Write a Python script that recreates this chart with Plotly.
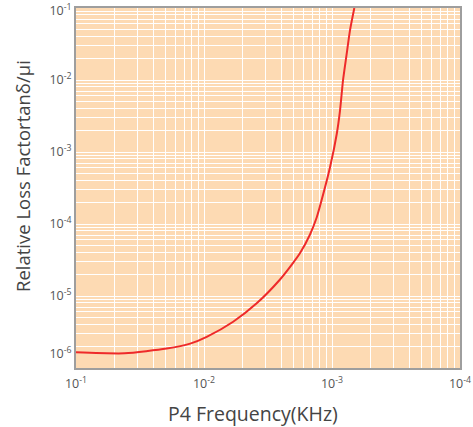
import plotly.graph_objects as go

# Data (frequency in Hz on the axis, labels as printed)
freq = [10, 24, 51, 78, 105, 169, 258, 391, 495, 563, 672, 758, 826, 964, 1089, 1155, 1219, 1298, 1383, 1494]
loss = [1.65e-6, 1.6e-6, 1.86e-6, 2.18e-6, 2.71e-6, 4.39e-6, 7.9e-6, 1.68e-5, 2.86e-5, 3.95e-5,
        7.1e-5, 1.22e-4, 2.08e-4, 6.08e-4, 1.78e-3, 3.76e-3, 9.86e-3, 2.21e-2, 4.93e-2, 1.0e-1]

x_tickvals = [10, 100, 1000, 9990]
x_ticktext = ["10<sup>-1</sup>", "10<sup>-2</sup>", "10<sup>-3</sup>", "10<sup>-4</sup>"]
y_tickvals = [10**-5.8, 1e-5, 1e-4, 1e-3, 1e-2, 10**-1.04]
y_ticktext = ["10<sup>-6</sup>", "10<sup>-5</sup>", "10<sup>-4</sup>", "10<sup>-3</sup>", "10<sup>-2</sup>", "10<sup>-1</sup>"]

x_title = "P4 Frequency(KHz)"
y_title = "Relative Loss Factortanδ/μi"

fig = go.Figure()
fig.add_trace(go.Scatter(x=freq, y=loss, mode="lines",
                         line=dict(color="#EE2A2A", width=2, shape="spline", smoothing=0.6),
                         hoverinfo="skip", showlegend=False, cliponaxis=True))

font = "Open Sans, Noto Sans, sans-serif"
fig.update_layout(
    width=473, height=427,
    margin=dict(l=76, r=13, t=8, b=59, autoexpand=False),
    paper_bgcolor="white",
    plot_bgcolor="#FDDAB3",
    font=dict(family=font, color="#555555"),
    xaxis=dict(type="log", range=[1, 4],
               tickvals=x_tickvals, ticktext=x_ticktext,
               showgrid=True, gridcolor="white", gridwidth=1,
               minor=dict(dtick="D1", showgrid=True, gridcolor="white", gridwidth=1),
               showline=True, linecolor="#9E9E9E", linewidth=2, mirror=True,
               ticks="", tickfont=dict(size=12.5, color="#555555"), automargin=False,
               ticklabelstandoff=3,
               zeroline=False),
    yaxis=dict(type="log", range=[-6.0, -1],
               tickvals=y_tickvals, ticktext=y_ticktext,
               showgrid=False,
               minor=dict(dtick="D1", showgrid=True, gridcolor="white", gridwidth=1),
               showline=True, linecolor="#9E9E9E", linewidth=2, mirror=True,
               ticks="", tickfont=dict(size=12.5, color="#555555"), automargin=False,
               zeroline=False),
    annotations=[
        dict(text=x_title, xref="paper", yref="paper", x=0.461, y=-0.125,
             showarrow=False, xanchor="center", yanchor="middle",
             font=dict(size=19.5, color="#444444", family=font)),
        dict(text=y_title, xref="paper", yref="paper", x=-0.1406, y=0.5333,
             showarrow=False, xanchor="center", yanchor="middle", textangle=-90,
             font=dict(size=18.5, color="#444444", family=font)),
    ],
)

fig.write_html("out.html", config={"displayModeBar": False},
               post_script="document.body.style.margin='0';document.body.style.overflow='hidden';")
